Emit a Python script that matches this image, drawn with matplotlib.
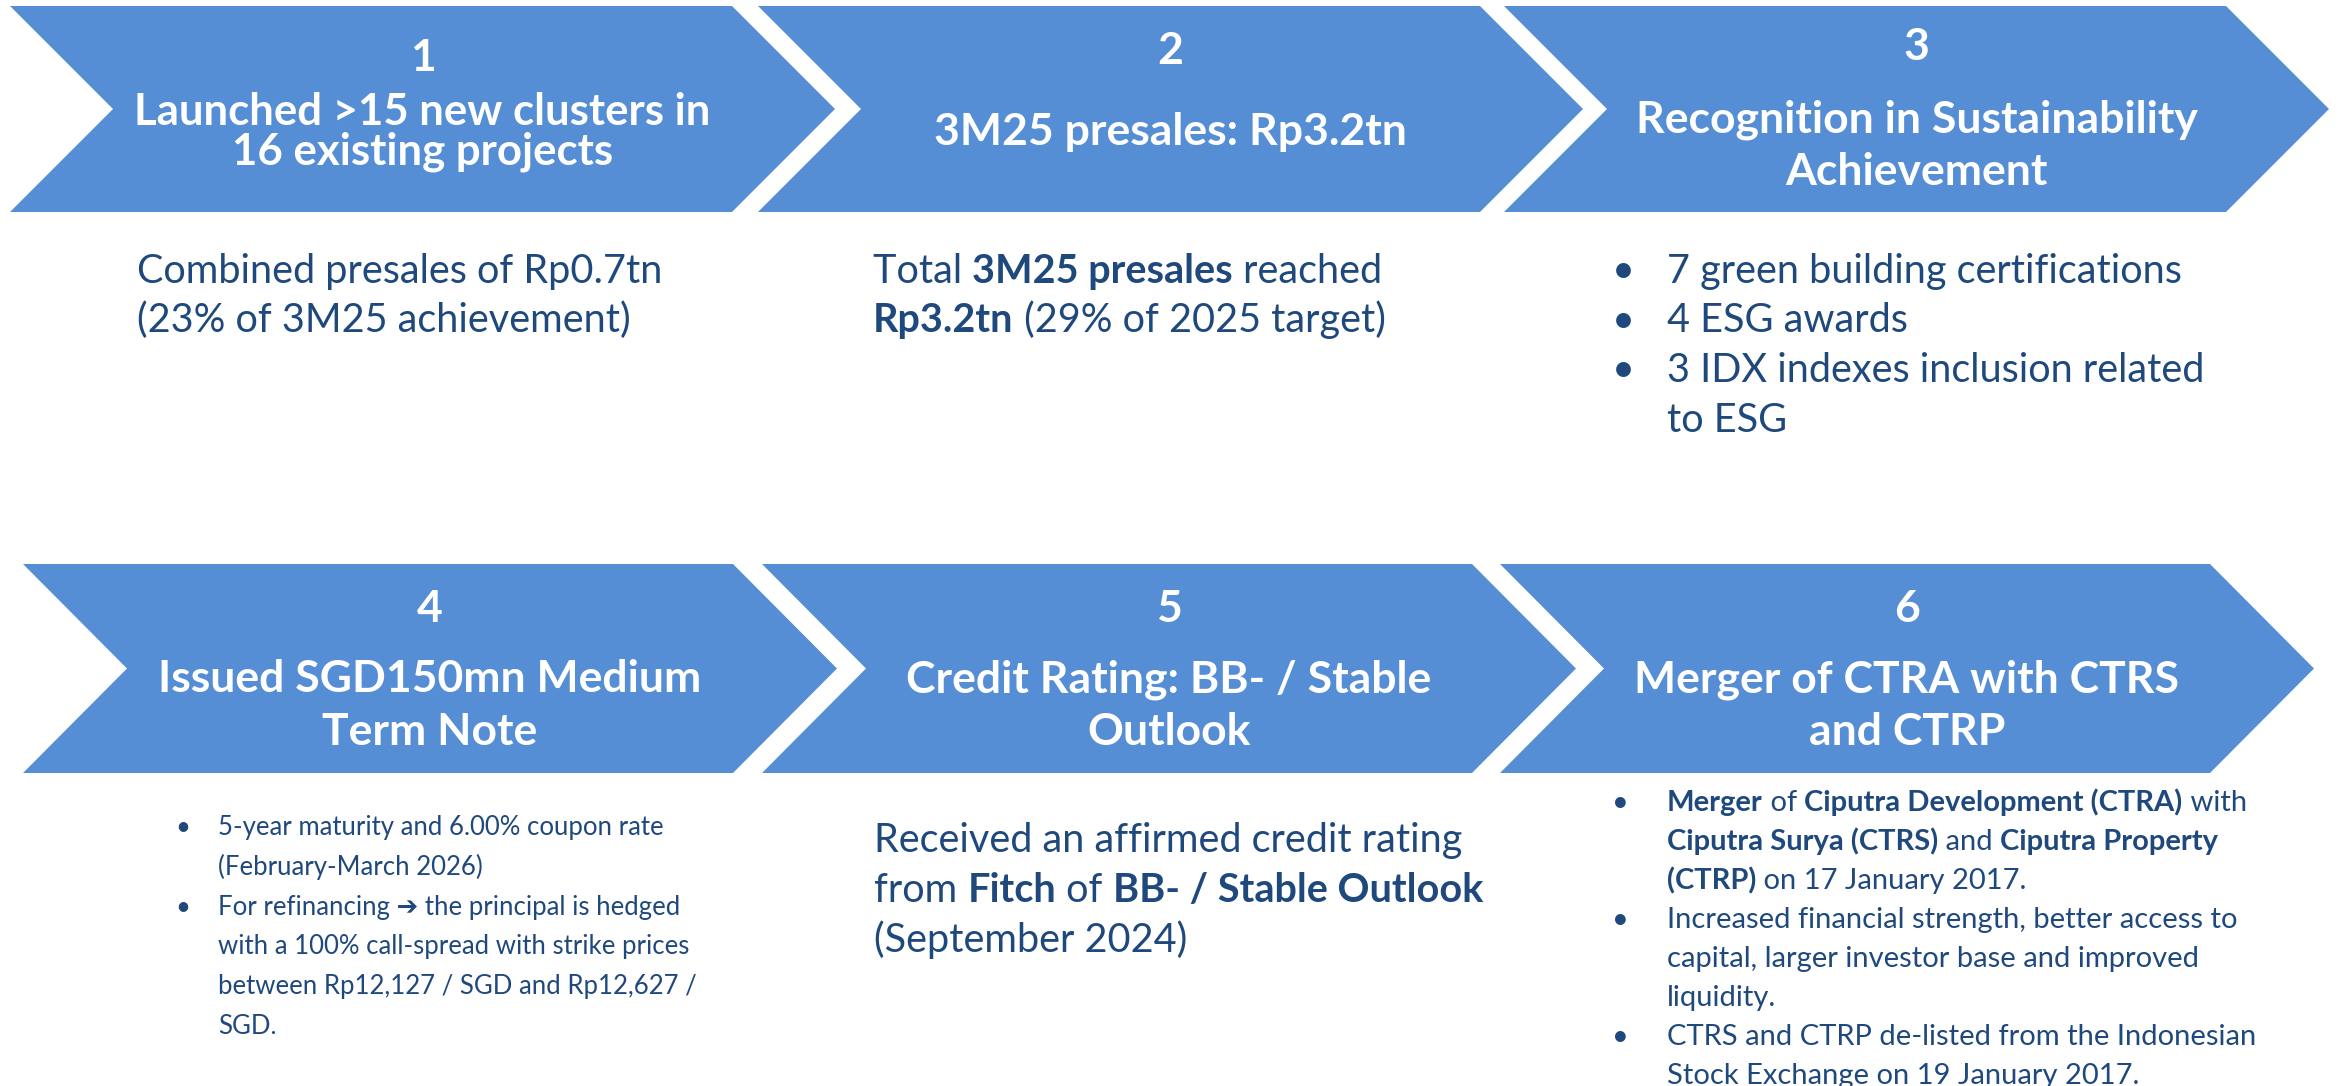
import re
import matplotlib
matplotlib.use('Agg')
import matplotlib.pyplot as plt
from matplotlib.patches import Polygon

W, H = 2343, 1086
FILL = '#558ED5'
NAVY = '#1F497D'
FONT = ['Lato', 'DejaVu Sans']

# ---- content -------------------------------------------------------------
numbers = ['1', '2', '3', '4', '5', '6']
titles = [
    ['Launched >15 new clusters in', '16 existing projects'],
    ['3M25 presales: Rp3.2tn'],
    ['Recognition in Sustainability', 'Achievement'],
    ['Issued SGD150mn Medium', 'Term Note'],
    ['Credit Rating: BB- / Stable', 'Outlook'],
    ['Merger of CTRA with CTRS', 'and CTRP'],
]
# plain paragraphs (** marks bold runs)
detail_1 = ['Combined presales of Rp0.7tn', '(23% of 3M25 achievement)']
detail_2 = ['Total **3M25 presales** reached', '**Rp3.2tn** (29% of 2025 target)']
detail_5 = ['Received an affirmed credit rating',
            'from **Fitch** of **BB- / Stable Outlook**',
            '(September 2024)']
# bulleted lists: one list of lines per bullet
detail_3 = [['7 green building certifications'],
            ['4 ESG awards'],
            ['3 IDX indexes inclusion related', 'to ESG']]
detail_4 = [['5-year maturity and 6.00% coupon rate', '(February-March 2026)'],
            ['For refinancing \u2794 the principal is hedged',
             'with a 100% call-spread with strike prices',
             'between Rp12,127 / SGD and Rp12,627 /',
             'SGD.']]
detail_6 = [['**Merger** of **Ciputra Development (CTRA)** with',
             '**Ciputra Surya (CTRS)** and **Ciputra Property**',
             '**(CTRP)** on 17 January 2017.'],
            ['Increased financial strength, better access to',
             'capital, larger investor base and improved',
             'liquidity.'],
            ['CTRS and CTRP de-listed from the Indonesian',
             'Stock Exchange on 19 January 2017.']]

# ---- layout (pixels) -----------------------------------------------------
row_top = [6, 564]
row_bot = [212, 773]
chev_x = [[10, 758, 1504], [23, 762, 1500]]
chev_w = [722, 710]
chev_d = [103, 104]

num_base = [71, 64, 60, 622, 622, 622]
title_base = [[125, 164], [145], [133, 185], [692, 745], [692, 745], [692, 745]]
title_size = [31.5, 32, 32, 32, 32, 32]
BIG, SMALL_4, SMALL_6 = 28.5, 18.5, 21

fig = plt.figure(figsize=(W / 100, H / 100), dpi=100)
ax = fig.add_axes([0, 0, 1, 1])
ax.set_xlim(0, W)
ax.set_ylim(H, 0)
ax.axis('off')
renderer = fig.canvas.get_renderer()


def advance(s, size, bold):
    t = ax.text(0, 0, '|' + s + '|', fontsize=size, family=FONT,
                fontweight='bold' if bold else 'normal')
    w1 = t.get_window_extent(renderer).width
    t.set_text('||')
    w2 = t.get_window_extent(renderer).width
    t.remove()
    return w1 - w2


def rich_line(x, y, line, size, color=NAVY):
    for part in re.split(r'(\*\*.*?\*\*)', line):
        if not part:
            continue
        bold = part.startswith('**')
        s = part[2:-2] if bold else part
        ax.text(x, y, s, fontsize=size, family=FONT, color=color,
                fontweight='bold' if bold else 'normal',
                ha='left', va='baseline')
        x += advance(s, size, bold)


def paragraph(x, y0, step, lines, size):
    for i, line in enumerate(lines):
        rich_line(x, y0 + i * step, line, size)


def bullets(xb, xt, y0, step, items, size):
    k = 0
    for item in items:
        ax.text(xb, y0 + k * step, '\u2022', fontsize=size, family=FONT,
                color=NAVY, ha='left', va='baseline')
        for line in item:
            rich_line(xt, y0 + k * step, line, size)
            k += 1


# chevrons + titles
for i in range(6):
    r, c = divmod(i, 3)
    x0, w, d = chev_x[r][c], chev_w[r], chev_d[r]
    top, bot = row_top[r], row_bot[r]
    mid = (top + bot) / 2
    pts = [(x0, top), (x0 + w, top), (x0 + w + d, mid),
           (x0 + w, bot), (x0, bot), (x0 + d, mid)]
    ax.add_patch(Polygon(pts, closed=True, facecolor=FILL, edgecolor='none'))
    cx = x0 + (w + d) / 2
    ax.text(cx, num_base[i], numbers[i], fontsize=32, family=FONT,
            fontweight='bold', color='white', ha='center', va='baseline')
    for line, yb in zip(titles[i], title_base[i]):
        ax.text(cx, yb, line, fontsize=title_size[i], family=FONT,
                fontweight='bold', color='white', ha='center', va='baseline')

# detail text
paragraph(137, 283, 49, detail_1, BIG)
paragraph(873, 283, 49, detail_2, BIG)
bullets(1612, 1667, 283, 49.5, detail_3, BIG)
bullets(175, 218, 835, 39.8, detail_4, SMALL_4)
paragraph(874, 852, 50, detail_5, BIG)
bullets(1612, 1667, 811, 39, detail_6, SMALL_6)

fig.savefig('out.png', dpi=100, facecolor='white')
